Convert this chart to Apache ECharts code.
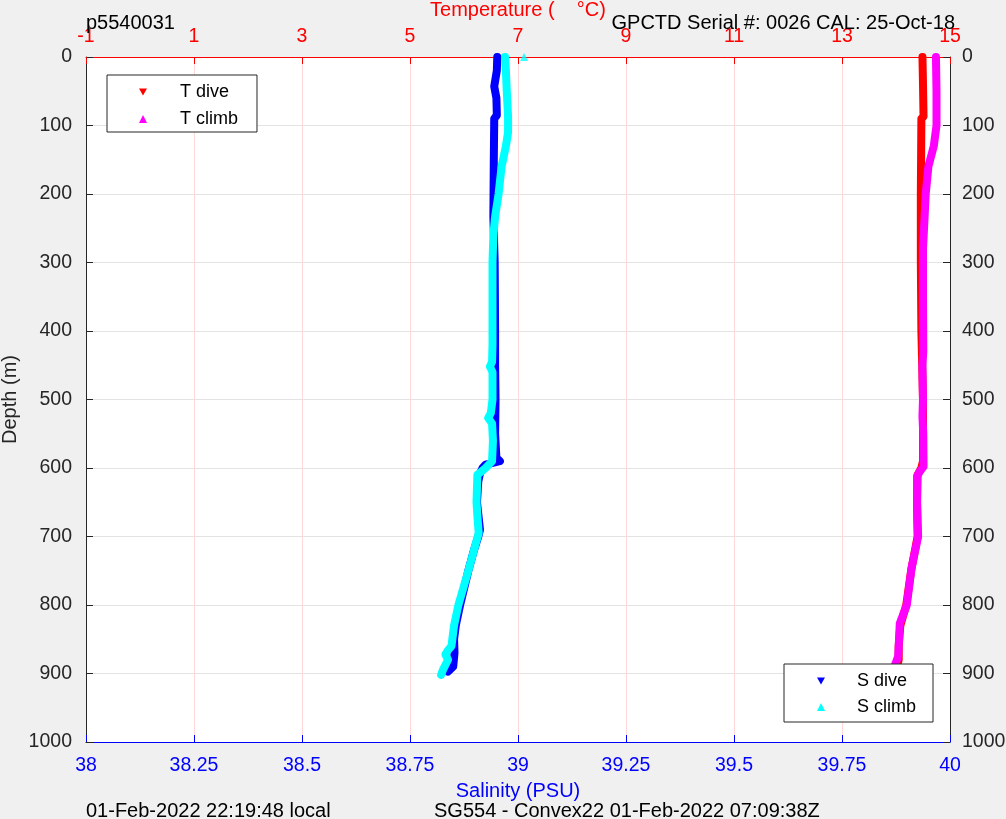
<!DOCTYPE html>
<html>
<head>
<meta charset="utf-8">
<script src="https://cdn.jsdelivr.net/npm/echarts@6/dist/echarts.min.js"></script>
<style>
html,body{margin:0;padding:0;background:#f0f0f0;}
#chart{width:1006px;height:819px;}
</style>
</head>
<body>
<div id="chart"></div>
<script>
// ---- data ----
const depthTicks = [0,100,200,300,400,500,600,700,800,900,1000];
const tempTicks = [-1,1,3,5,7,9,11,13,15];
const salTicks = [38,38.25,38.5,38.75,39,39.25,39.5,39.75,40];

// Salinity dive (blue): [salinity, depth]
const salDive = [
  [38.952,0],[38.951,20],[38.945,43],[38.950,60],[38.951,85],[38.945,90],[38.944,150],
  [38.943,233],[38.946,300],[38.947,400],[38.947,450],[38.948,500],[38.947,550],
  [38.950,585],[38.958,590],[38.925,595],[38.918,600],[38.912,608],[38.908,620],
  [38.905,650],[38.912,690],[38.908,700],[38.898,720],[38.885,750],[38.866,800],
  [38.856,830],[38.852,850],[38.853,870],[38.850,890],[38.838,897]
];
// Salinity climb (cyan)
const salClimb = [
  [38.970,0],[38.972,20],[38.974,50],[38.977,87],[38.977,110],[38.972,130],
  [38.962,160],[38.955,200],[38.947,233],[38.943,260],[38.941,300],[38.941,350],
  [38.941,420],[38.940,445],[38.935,452],[38.941,460],[38.941,500],[38.937,520],
  [38.931,527],[38.940,535],[38.942,560],[38.940,590],[38.925,600],[38.906,610],
  [38.904,650],[38.906,670],[38.909,695],[38.898,720],[38.885,750],[38.862,800],
  [38.852,830],[38.846,860],[38.838,866],[38.832,872],[38.838,880],[38.826,895],[38.822,902]
];
const salClimbStray = [[39.014,0]];

// Temperature dive (red): [temperature, depth]
const tempDive = [
  [14.49,0],[14.50,40],[14.51,87],[14.47,90],[14.46,200],[14.46,300],[14.47,400],
  [14.50,500],[14.50,590],[14.47,600],[14.40,610],[14.39,650],[14.40,700],
  [14.28,750],[14.19,800],[14.08,830],[14.05,860],[14.05,880],[14.00,895]
];
// Temperature climb (magenta)
const tempClimb = [
  [14.74,0],[14.75,50],[14.75,100],[14.70,130],[14.60,160],[14.55,200],[14.53,233],
  [14.50,280],[14.50,350],[14.505,430],[14.49,450],[14.50,500],[14.49,525],
  [14.505,550],[14.51,598],[14.44,605],[14.39,612],[14.39,650],[14.40,680],
  [14.41,700],[14.29,745],[14.20,800],[14.07,827],[14.05,860],[14.04,875],
  [13.97,890],[13.94,897]
];

const FONT = 'Liberation Sans, Arial, sans-serif';
const AX = '#262626';
const downTri = 'path://M0,0L10,0L5,9Z';

const chart = echarts.init(document.getElementById('chart'));
const fmt = v => String(+(+v).toFixed(2));
const plain = v => String(v);

function lineSeries(name, data, color, xi) {
  return {
    name, type:'line', data, xAxisIndex:xi, yAxisIndex:0,
    showSymbol:false, symbol:'none', silent:true, animation:false,
    lineStyle:{color, width:8, join:'round', cap:'round'},
    itemStyle:{color}
  };
}

chart.setOption({
  backgroundColor:'#f0f0f0',
  animation:false,
  textStyle:{fontFamily:FONT},
  title:[
    {text:'p5540031', left:86, top:13, padding:0, textStyle:{fontSize:20, fontWeight:'normal', color:'#000', fontFamily:FONT}},
    {text:'GPCTD Serial #: 0026 CAL: 25-Oct-18', right:51, top:13, padding:0, textStyle:{fontSize:20, fontWeight:'normal', color:'#000', fontFamily:FONT}},
    {text:'01-Feb-2022 22:19:48 local', left:86, top:801, padding:0, textStyle:{fontSize:20, fontWeight:'normal', color:'#000', fontFamily:FONT}},
    {text:'SG554 - Convex22 01-Feb-2022 07:09:38Z', left:434, top:801, padding:0, textStyle:{fontSize:20, fontWeight:'normal', color:'#000', fontFamily:FONT}}
  ],
  grid:{left:86, right:56, top:57, bottom:77, show:true, backgroundColor:'#ffffff', borderWidth:0, containLabel:false, outerBoundsMode:'none'},
  legend:[
    {
      orient:'vertical', left:107, top:75,
      data:[{name:'T dive', icon:downTri},{name:'T climb', icon:'triangle'}],
      itemWidth:8, itemHeight:8, itemGap:7,
      padding:[7,19,3,32],
      backgroundColor:'#ffffff', borderColor:AX, borderWidth:1,
      textStyle:{fontSize:18, color:'#000', fontFamily:FONT, lineHeight:20, padding:[0,0,0,28]}
    },
    {
      orient:'vertical', left:784, top:664,
      data:[{name:'S dive', icon:downTri},{name:'S climb', icon:'triangle'}],
      itemWidth:8, itemHeight:8, itemGap:6,
      padding:[7,17,5,33],
      backgroundColor:'#ffffff', borderColor:AX, borderWidth:1,
      textStyle:{fontSize:18, color:'#000', fontFamily:FONT, lineHeight:20, padding:[0,0,0,27]}
    }
  ],
  xAxis:[
    {
      type:'value', position:'bottom', min:38, max:40, interval:0.25,
      name:'Salinity (PSU)', nameLocation:'middle', nameGap:39, nameMoveOverlap:false,
      nameTextStyle:{color:'#0000ff', fontSize:20, fontFamily:FONT},
      axisLine:{show:true, onZero:false, lineStyle:{color:'#0000ff', width:1}},
      axisTick:{show:true, inside:true, length:7, lineStyle:{color:'#0000ff'}},
      axisLabel:{color:'#0000ff', fontSize:19.5, margin:14, formatter:fmt, showMinLabel:true, showMaxLabel:true, fontFamily:FONT},
      splitLine:{show:false}
    },
    {
      type:'value', position:'top', min:-1, max:15, interval:2,
      name:'Temperature (    °C)', nameLocation:'middle', nameGap:37, nameMoveOverlap:false,
      nameTextStyle:{color:'#ff0000', fontSize:20, fontFamily:FONT},
      axisLine:{show:true, onZero:false, lineStyle:{color:'#ff0000', width:1}},
      axisTick:{show:true, inside:true, length:7, lineStyle:{color:'#ff0000'}},
      axisLabel:{color:'#ff0000', fontSize:19.5, margin:10, formatter:fmt, showMinLabel:true, showMaxLabel:true, fontFamily:FONT},
      splitLine:{show:true, lineStyle:{color:'#ffd9d9', width:1}}
    }
  ],
  yAxis:[
    {
      type:'value', position:'left', inverse:true, min:0, max:1000, interval:100,
      name:'Depth (m)', nameLocation:'middle', nameGap:66, nameRotate:90, nameMoveOverlap:false,
      nameTextStyle:{color:AX, fontSize:20, fontFamily:FONT},
      axisLine:{show:true, onZero:false, lineStyle:{color:AX, width:1}},
      axisTick:{show:true, inside:true, length:7, lineStyle:{color:AX}},
      axisLabel:{color:AX, fontSize:19.5, margin:14, formatter:plain, showMinLabel:true, showMaxLabel:true, fontFamily:FONT},
      splitLine:{show:true, lineStyle:{color:'#e3e3e3', width:1}}
    },
    {
      type:'value', position:'right', inverse:true, min:0, max:1000, interval:100,
      axisLine:{show:true, onZero:false, lineStyle:{color:AX, width:1}},
      axisTick:{show:true, inside:true, length:7, lineStyle:{color:AX}},
      axisLabel:{color:AX, fontSize:19.5, margin:12, formatter:plain, showMinLabel:true, showMaxLabel:true, fontFamily:FONT},
      splitLine:{show:false}
    }
  ],
  series:[
    lineSeries('S dive', salDive, '#0000ff', 0),
    lineSeries('S climb', salClimb, '#00ffff', 0),
    {
      name:'S climb extra', type:'scatter', data:salClimbStray, xAxisIndex:0, yAxisIndex:0,
      symbol:'triangle', symbolSize:8, itemStyle:{color:'#00ffff'}, silent:true
    },
    lineSeries('T dive', tempDive, '#ff0000', 1),
    lineSeries('T climb', tempClimb, '#ff00ff', 1)
  ]
});
</script>
</body>
</html>
